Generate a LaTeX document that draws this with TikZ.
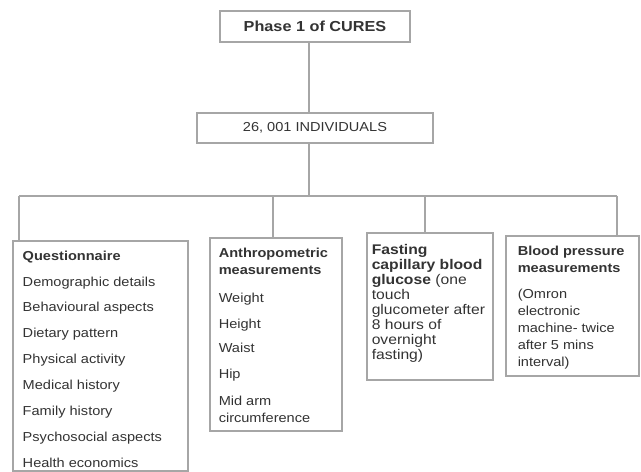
\documentclass[tikz,border=0pt]{standalone}
\usepackage{fontspec}
\setmainfont{Liberation Sans}[FakeStretch=1.12]
\usepackage{tikz}
\usepackage{xcolor}
\tikzstyle{cbox} = [draw=black!35, line width=1.5pt, fill=white, rectangle, inner sep=0pt, text=black!80]
\tikzstyle{link} = [draw=black!35, line width=1.5pt]
\tikzstyle{headtitle} = [font=\fontsize{14.5}{16}\selectfont\bfseries]

\begin{document}
\begin{tikzpicture}[x=1pt, y=-1pt]
\useasboundingbox (0,0) rectangle (641,472);
\node [cbox, headtitle, minimum width=190pt, minimum height=31pt] (phase) at (315,26.5) {Phase 1 of CURES};
\node [cbox, font=\fontsize{13}{15}\selectfont, minimum width=236pt, minimum height=30pt] (people) at (315,128) {26, 001 INDIVIDUALS};
\node [cbox, anchor=north west, inner xsep=10pt, inner ysep=10pt] (quest) at (12,240){%
    \begin{minipage}[t][210pt][t]{155pt}
        \fontsize{13}{25.9}\selectfont\raggedright
        \textbf{Questionnaire}\\
        Demographic details\\
        Behavioural aspects\\
        Dietary pattern\\
        Physical activity\\
        Medical history\\
        Family history\\
        Psychosocial aspects\\
        Health economics
    \end{minipage}
};
\node [cbox, anchor=north west, inner xsep=9pt, inner ysep=10pt] (anthro) at (209,237){%
    \begin{minipage}[t][173pt][t]{114pt}
        \fontsize{13}{17}\selectfont\raggedright
        \textbf{Anthropometric}\\
        \textbf{measurements}\\[11.5pt]
        Weight\\[9pt]
        Height\\[7pt]
        Waist\\[9pt]
        Hip\\[10pt]
        Mid arm\\
        circumference
    \end{minipage}
};
\node [cbox, anchor=north west, inner xsep=5pt, inner ysep=12pt] (fasting) at (366,232){%
    \begin{minipage}[t][123pt][t]{116pt}
        \fontsize{14}{15}\selectfont\raggedright
        \textbf{Fasting}\\
        \textbf{capillary blood}\\
        \textbf{glucose} (one\\
        touch\\
        glucometer after\\
        8 hours of\\
        overnight\\
        fasting)
    \end{minipage}
};
\node [cbox, anchor=north west, inner xsep=12pt, inner ysep=10.5pt] (bp) at (505,235){%
    \begin{minipage}[t][119pt][t]{109pt}
        \fontsize{13}{17}\selectfont\raggedright
        \textbf{Blood pressure}\\
        \textbf{measurements}\\[9pt]
        (Omron\\
        electronic\\
        machine- twice\\
        after 5 mins\\
        interval)
    \end{minipage}
};
\coordinate (hub) at (309,196);
\draw [link] (phase.south -| hub) -- (people.north -| hub);
\draw [link] (people.south -| hub) -- (hub);
\foreach \b/\x in {quest/19, anthro/273, fasting/425, bp/617}{
    \coordinate (d\b) at (\x,196);
    \draw [link] (d\b) -- (d\b |- \b.north);
}
\draw [link] (dquest) -- (dbp);
\end{tikzpicture}
\end{document}
